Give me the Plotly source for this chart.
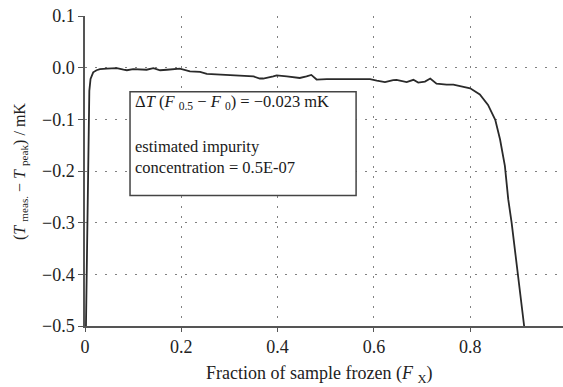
import plotly.graph_objects as go

frac_frozen = [0.002, 0.007, 0.009, 0.0115, 0.017, 0.024, 0.031, 0.045, 0.059, 0.066, 0.08, 0.087,
               0.1, 0.115, 0.128, 0.142, 0.156, 0.17, 0.19, 0.197, 0.218, 0.239, 0.253, 0.287,
               0.322, 0.35, 0.363, 0.37, 0.391, 0.398, 0.419, 0.446, 0.46, 0.47, 0.481, 0.502,
               0.536, 0.571, 0.592, 0.606, 0.623, 0.64, 0.647, 0.668, 0.682, 0.692, 0.706, 0.717,
               0.73, 0.751, 0.765, 0.786, 0.80, 0.82, 0.837, 0.852, 0.862, 0.872, 0.879, 0.886,
               0.899, 0.912, 0.913]
delta_t = [-0.5, -0.1, -0.045, -0.022, -0.009, -0.005, -0.003, -0.002, -0.0015, -0.001, -0.004, -0.005,
           -0.003, -0.003, -0.004, -0.001, -0.005, -0.004, -0.003, -0.002, -0.007, -0.008, -0.012, -0.014,
           -0.015, -0.017, -0.021, -0.021, -0.017, -0.015, -0.017, -0.020, -0.017, -0.014, -0.023, -0.022,
           -0.022, -0.022, -0.022, -0.025, -0.028, -0.024, -0.0235, -0.028, -0.0235, -0.029, -0.027, -0.021,
           -0.031, -0.033, -0.033, -0.037, -0.040, -0.052, -0.072, -0.101, -0.139, -0.19, -0.255, -0.30,
           -0.396, -0.50, -0.515]

x_ticks = [0, 0.2, 0.4, 0.6, 0.8]
x_tick_labels = ["0", "0.2", "0.4", "0.6", "0.8"]
y_ticks = [0.1, 0.0, -0.1, -0.2, -0.3, -0.4, -0.5]
y_tick_labels = ["0.1", "0.0", "−0.1", "−0.2", "−0.3", "−0.4", "−0.5"]

FONT = "Liberation Serif"
INK = "#222222"
TICK_FONT = dict(family=FONT, size=18, color=INK)

fig = go.Figure()
fig.add_trace(go.Scatter(x=frac_frozen, y=delta_t, mode="lines",
                         line=dict(color="#2a2a2a", width=1.8), showlegend=False))

grid = dict(showgrid=True, gridcolor="#808080", gridwidth=1.3, griddash="2px,8px")

fig.update_layout(
    width=563, height=387, margin=dict(l=85, r=0, t=16, b=61),
    plot_bgcolor="white", paper_bgcolor="white",
    font=dict(family=FONT, size=18, color=INK),
    xaxis=dict(range=[0, 0.9927], tickmode="array", tickvals=x_ticks, ticktext=x_tick_labels,
               showline=True, linecolor="#555555", linewidth=1.5,
               ticks="outside", ticklen=4, tickcolor="#555555", tickwidth=1.3,
               zeroline=False, tickfont=TICK_FONT, **grid),
    yaxis=dict(range=[-0.5, 0.1], tickmode="array", tickvals=y_ticks, ticktext=y_tick_labels,
               showline=True, linecolor="#555555", linewidth=1.5,
               ticks="outside", ticklen=5, tickcolor="#555555", tickwidth=1.3,
               zeroline=False, tickfont=TICK_FONT, **grid),
)

fig.add_shape(type="rect", xref="x", yref="y", x0=0.0935, x1=0.563, y0=-0.2475, y1=-0.0467,
              line=dict(color="#444444", width=1.5), fillcolor="white", layer="above")

BOX_FONT = dict(family=FONT, size=16.5, color="#1a1a1a")
fig.add_annotation(xref="x", yref="y", x=0.1, y=-0.0665, xanchor="left", yanchor="middle",
                   text="Δ<i>T</i> (<i>F</i> <sub>0.5</sub> − <i>F</i> <sub>0</sub>) = −0.023 mK",
                   showarrow=False, font=BOX_FONT)
fig.add_annotation(xref="x", yref="y", x=0.1, y=-0.153, xanchor="left", yanchor="middle",
                   text="estimated impurity", showarrow=False, font=BOX_FONT)
fig.add_annotation(xref="x", yref="y", x=0.1, y=-0.194, xanchor="left", yanchor="middle",
                   text="concentration = 0.5E-07", showarrow=False, font=BOX_FONT)

fig.add_annotation(xref="paper", yref="paper", x=-0.136, y=0.5, textangle=-90,
                   xanchor="center", yanchor="middle", showarrow=False,
                   text="(<i>T</i> <sub>meas.</sub> − <i>T</i> <sub>peak</sub>) / mK",
                   font=dict(family=FONT, size=16, color=INK))
fig.add_annotation(xref="paper", yref="paper", x=0.49, y=-0.158,
                   xanchor="center", yanchor="middle", showarrow=False,
                   text="Fraction of sample frozen (<i>F</i> <sub>X</sub>)",
                   font=dict(family=FONT, size=18, color=INK))

fig.write_html("out.html")
